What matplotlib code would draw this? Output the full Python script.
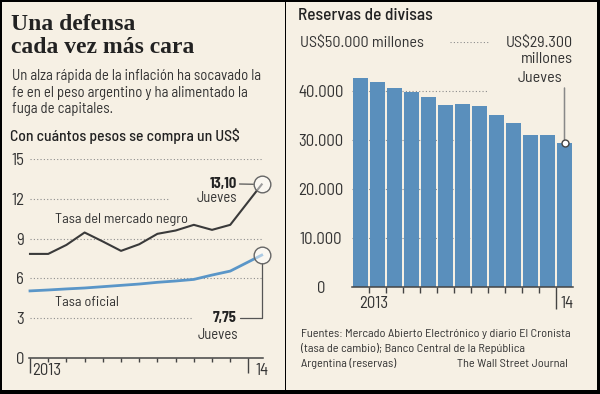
import matplotlib.pyplot as plt
from matplotlib.patches import Rectangle

# tipo de cambio: pesos por US$ (mensual desde ene-2013, ultimo punto = jueves 23-ene-2014)
meses = [0, 1, 2, 3, 4, 5, 6, 7, 8, 9, 10, 11, 12.73]
tasa_negro = [7.84, 7.84, 8.52, 9.46, 8.78, 8.07, 8.57, 9.36, 9.61, 10.04, 9.66, 10.04, 13.10]
tasa_oficial = [5.04, 5.11, 5.19, 5.26, 5.36, 5.46, 5.56, 5.69, 5.79, 5.91, 6.24, 6.54, 7.75]

# reservas de divisas, millones de US$ (ene-2013 ... ene-2014)
reservas = [42700, 41800, 40550, 39650, 38770, 37140, 37350, 36800, 34960, 33400, 31020, 31020, 29300]

ticks_izq = [0, 3, 6, 9, 12, 15]
ticks_der = [0, 10000, 20000, 30000, 40000]
etiquetas_der = ['0', '10.000', '20.000', '30.000', '40.000']

BG = '#f6f0e4'
TXT = '#333333'
AZUL = '#5a8fbc'
SANS = ['Barlow Semi Condensed', 'Liberation Sans Narrow', 'DejaVu Sans']
SERIF = ['Liberation Serif', 'DejaVu Serif']
plt.rcParams['font.family'] = SANS

W, H = 600, 394
fig = plt.figure(figsize=(6, 3.94), dpi=100, facecolor=BG)


def fx(px):
    return px / W


def fy(py):
    return 1 - py / H


def texto(px, py, s, **kw):
    kw.setdefault('color', TXT)
    kw.setdefault('va', 'baseline')
    fig.text(fx(px), fy(py), s, **kw)


# ---------------- panel izquierdo ----------------
texto(11, 30, 'Una defensa', fontsize=17, fontweight='bold', family=SERIF, color='#222222')
texto(11, 53.3, 'cada vez más cara', fontsize=17, fontweight='bold', family=SERIF, color='#222222')
for i, linea in enumerate(['Un alza rápida de la inflación ha socavado la',
                           'fe en el peso argentino y ha alimentado la',
                           'fuga de capitales.']):
    texto(12.5, 80 + i * 16.7, linea, fontsize=10.6)
texto(9.5, 140.7, 'Con cuántos pesos se compra un US$', fontsize=11.3, fontweight='medium', color='#222222')

ax1 = fig.add_axes([fx(30), fy(357.5), 233 / W, 198.2 / H])
ax1.set_facecolor('none')
ax1.set_xlim(0, 12.8)
ax1.set_ylim(0, 15)
for s in ['top', 'right', 'left']:
    ax1.spines[s].set_visible(False)
ax1.spines['bottom'].set_color('#444444')
ax1.spines['bottom'].set_linewidth(1.1)
ax1.spines['bottom'].set_bounds(-0.05, 12.8)

ax1.set_yticks(ticks_izq)
ax1.set_yticklabels([str(t) for t in ticks_izq])
ax1.tick_params(axis='y', length=0, pad=4.3, labelsize=12, labelcolor=TXT)
ax1.set_xticks([0, 12])
ax1.set_xticks(range(1, 12), minor=True)
ax1.set_xticklabels([])
ax1.tick_params(axis='x', which='major', length=11, width=1, color='#444444')
ax1.tick_params(axis='x', which='minor', length=3, width=1, color='#444444')
ax1.text(0.12, -0.088, '2013', transform=ax1.get_xaxis_transform(), fontsize=12, color=TXT)
ax1.text(12.38, -0.088, '14', transform=ax1.get_xaxis_transform(), fontsize=12, color=TXT)

punteado = dict(color='#8c8c8c', lw=0.8, linestyle=(0, (1, 2)), zorder=1)
ax1.hlines([15, 9, 6], 0, 12.75, **punteado)
ax1.hlines(12, 0, 7.7, **punteado)
ax1.hlines(3, 0, 8.97, **punteado)

ax1.plot(meses, tasa_negro, color='#3a3a3a', lw=1.5, zorder=3, clip_on=False)
ax1.plot(meses, tasa_oficial, color='#5a96c8', lw=2.0, zorder=3, clip_on=False)
for serie in (tasa_negro, tasa_oficial):
    ax1.plot(meses[-1], serie[-1], 'o', ms=12, mfc=(1, 1, 1, 0.5), mec='#666666',
             mew=1, zorder=4, clip_on=False)

ax1.text(1.37, 10.2, 'Tasa del mercado negro', fontsize=10.3, color=TXT, va='baseline')
ax1.text(1.37, 3.9, 'Tasa oficial', fontsize=10.3, color=TXT, va='baseline')

ax1.annotate('13,10', xy=(meses[-1], tasa_negro[-1]), xytext=(-18, 0.5), textcoords='offset points',
             ha='right', va='center', fontsize=10.5, fontweight='bold', color='#222222',
             arrowprops=dict(arrowstyle='-', color='#555555', lw=0.9, shrinkA=0, shrinkB=6))
ax1.annotate('Jueves', xy=(meses[-1], tasa_negro[-1]), xytext=(-17.5, -12.6), textcoords='offset points',
             ha='right', va='baseline', fontsize=10.5, color=TXT)
ax1.annotate('7,75', xy=(meses[-1], tasa_oficial[-1]), xytext=(-18, -45.5), textcoords='offset points',
             ha='right', va='center', fontsize=10.5, fontweight='bold', color='#222222',
             arrowprops=dict(arrowstyle='-', color='#555555', lw=0.9, shrinkA=0, shrinkB=6,
                             connectionstyle='angle,angleA=0,angleB=90,rad=0'))
ax1.annotate('Jueves', xy=(meses[-1], tasa_oficial[-1]), xytext=(-17, -60.6), textcoords='offset points',
             ha='right', va='baseline', fontsize=10.5, color=TXT)

# ---------------- panel derecho ----------------
texto(298, 20, 'Reservas de divisas', fontsize=12.5, fontweight='medium', color='#222222')
texto(300, 46.7, 'US$50.000 millones', fontsize=11.5)
texto(573, 46.7, 'US$29.300', fontsize=11.5, ha='right')
texto(573, 63.3, 'millones', fontsize=11.5, ha='right')
texto(562, 81.7, 'Jueves', fontsize=11.5, ha='right')

ax2 = fig.add_axes([fx(352), fy(287), 221 / W, 245.3 / H])
ax2.set_facecolor('none')
ax2.set_xlim(-0.5, 12.5)
ax2.set_ylim(0, 50000)
for s in ['top', 'right', 'left']:
    ax2.spines[s].set_visible(False)
ax2.spines['bottom'].set_color('#444444')
ax2.spines['bottom'].set_linewidth(1.1)

ax2.hlines(ticks_der[1:], -0.5, 7.5, **punteado)
ax2.hlines(50000, 5.26, 7.5, **punteado)
ax2.bar(range(len(reservas)), reservas, width=0.9, color=AZUL, zorder=2)

ax2.set_yticks(ticks_der)
ax2.set_yticklabels(etiquetas_der, ha='center')
ax2.tick_params(axis='y', length=0, pad=22.5, labelsize=12, labelcolor=TXT)
ax2.set_xticks([11.5])
ax2.set_xticks([i + 0.5 for i in range(11)], minor=True)
ax2.set_xticklabels([])
ax2.tick_params(axis='x', which='major', length=16, width=1, color='#444444')
ax2.tick_params(axis='x', which='minor', length=4, width=1, color='#444444')
ax2.text(0.75, -0.087, '2013', transform=ax2.get_xaxis_transform(), fontsize=12, color=TXT, ha='center')
ax2.text(11.75, -0.087, '14', transform=ax2.get_xaxis_transform(), fontsize=12, color=TXT)

ax2.annotate('', xy=(len(reservas) - 1, reservas[-1]), xytext=(0, 39.8), textcoords='offset points',
             arrowprops=dict(arrowstyle='-', color='#888888', lw=1.1, shrinkA=0, shrinkB=2.5))
ax2.plot(len(reservas) - 1, reservas[-1], 'o', ms=5, mfc='white', mec='#444444', mew=1, zorder=4,
         clip_on=False)

for i, linea in enumerate(['Fuentes: Mercado Abierto Electrónico y diario El Cronista',
                           '(tasa de cambio); Banco Central de la República',
                           'Argentina (reservas)']):
    texto(301, 337.3 + i * 15, linea, fontsize=8.8)
texto(568, 367.3, 'The Wall Street Journal', fontsize=8.8, ha='right')

# marco negro y separador
for x0, y0, w, h in [(0, 0, 2, H), (0, 0, W, 2), (597, 0, 3, H), (0, 389.5, W, 4.5), (284.8, 0, 1.5, H)]:
    fig.add_artist(Rectangle((fx(x0), fy(y0 + h)), w / W, h / H, transform=fig.transFigure,
                             color='black', lw=0))

fig.savefig('out.png', dpi=100, facecolor=BG)
